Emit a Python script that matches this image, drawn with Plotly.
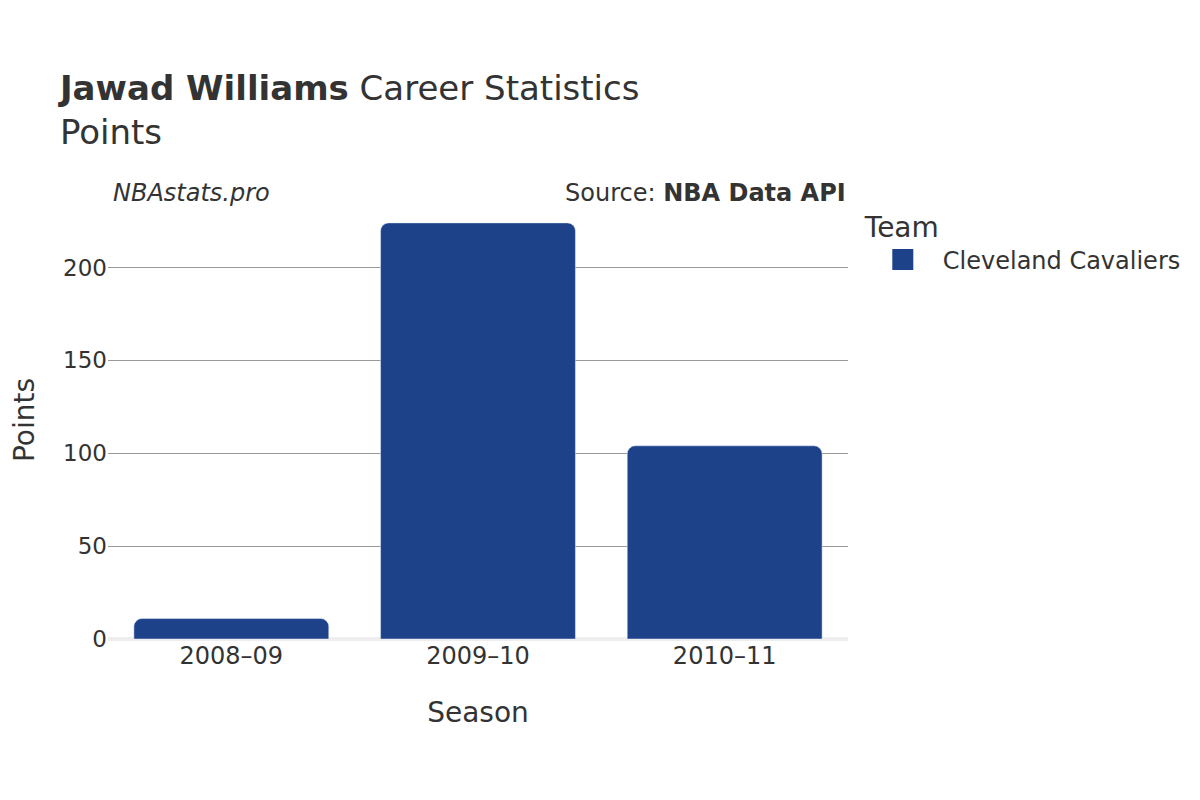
import plotly.graph_objects as go

seasons = ['2008–09', '2009–10', '2010–11']
points = [11, 224, 104]
team = 'Cleveland Cavaliers'
team_color = '#1d428a'

fig = go.Figure()
fig.add_trace(go.Bar(x=seasons, y=points, name=team, marker_color=team_color,
                     legendgroup=team, showlegend=False))
# bigger legend swatch than the bar default
fig.add_trace(go.Scatter(x=[None], y=[None], mode='markers', name=team,
                         legendgroup=team,
                         marker=dict(symbol='square', size=16, color=team_color,
                                     line=dict(color=team_color, width=5))))

fig.update_layout(
    width=1200, height=800,
    font=dict(family='DejaVu Sans', color='#333333', size=24),
    plot_bgcolor='white', paper_bgcolor='white',
    title=dict(text='<b>Jawad Williams</b> Career Statistics<br>Points',
               x=0.0433, xanchor='left', y=0.885, yanchor='top',
               font=dict(size=34)),
    margin=dict(l=100, r=360, t=193, b=169),
    bargap=0.21,
    barcornerradius=8,
    legend=dict(title=dict(text='Team', font=dict(size=28)), x=1.02, y=1.0,
                xanchor='left', yanchor='top', font=dict(size=24), itemwidth=70),
    xaxis=dict(title=dict(text='Season', font=dict(size=28), standoff=33),
               tickfont=dict(size=24)),
    yaxis=dict(title=dict(text='Points', font=dict(size=28), standoff=40),
               tickfont=dict(size=23), automargin=False,
               gridcolor='#999999', zeroline=True, zerolinecolor='#eeeeee',
               zerolinewidth=4, dtick=50),
    annotations=[
        dict(text='<i>NBAstats.pro</i>', x=0.004, y=1.0, xref='paper', yref='paper',
             xanchor='left', yanchor='bottom', yshift=-8, showarrow=False,
             font=dict(size=24)),
        dict(text='Source: <b>NBA Data API</b>', x=1.0, y=1.0, xref='paper',
             yref='paper', xanchor='right', yanchor='bottom', yshift=-8,
             showarrow=False, font=dict(size=24)),
    ],
)

fig.write_html('out.html')
